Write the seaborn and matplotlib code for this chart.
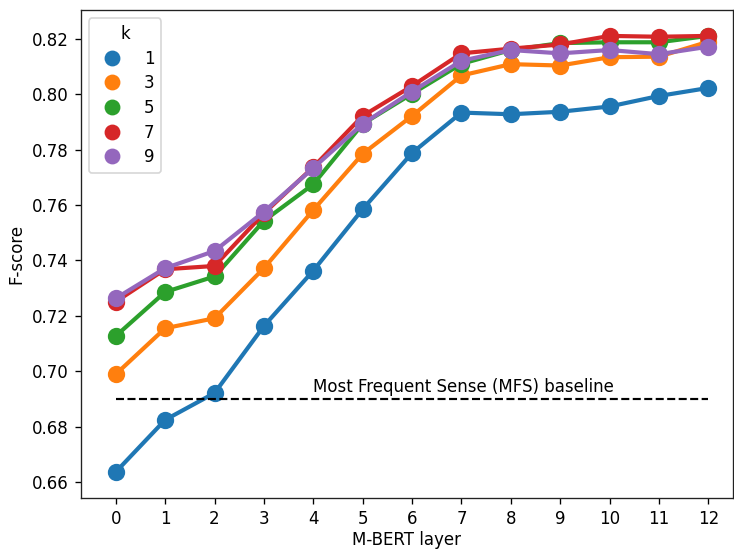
import numpy as np
import pandas as pd
import seaborn as sns
import matplotlib.pyplot as plt
from matplotlib.lines import Line2D

# F-score per M-BERT layer, for each k
layers = list(range(13))
k_values = [1, 3, 5, 7, 9]
f_k1 = [0.6636, 0.6824, 0.6921, 0.7163, 0.7363, 0.7585, 0.7788, 0.7934, 0.7928, 0.7937, 0.7956, 0.7994, 0.8023]
f_k3 = [0.6989, 0.7155, 0.7191, 0.7372, 0.7582, 0.7785, 0.7922, 0.8068, 0.8109, 0.8104, 0.8134, 0.8136, 0.8190]
f_k5 = [0.7127, 0.7286, 0.7342, 0.7543, 0.7675, 0.7893, 0.8002, 0.8110, 0.8160, 0.8185, 0.8188, 0.8188, 0.8211]
f_k7 = [0.7251, 0.7368, 0.7380, 0.7570, 0.7737, 0.7922, 0.8030, 0.8148, 0.8165, 0.8180, 0.8211, 0.8208, 0.8211]
f_k9 = [0.7263, 0.7372, 0.7434, 0.7576, 0.7734, 0.7893, 0.8010, 0.8121, 0.8160, 0.8148, 0.8160, 0.8145, 0.8172]
mfs_baseline = 0.69

rows = []
for k, vals in zip(k_values, [f_k1, f_k3, f_k5, f_k7, f_k9]):
    for layer, v in zip(layers, vals):
        rows.append({"layer": layer, "k": k, "fscore": v})
df = pd.DataFrame(rows)

colors = sns.color_palette("tab10", len(k_values))

plt.rcParams["axes.edgecolor"] = "#222222"

fig, ax = plt.subplots(figsize=(734 / 120, 549 / 120), dpi=120)
fig.subplots_adjust(left=0.110, right=0.9986, bottom=0.093, top=0.982)

sns.pointplot(data=df, x="layer", y="fscore", hue="k", palette=colors,
              errorbar=None, markersize=8.5, linewidth=2.5, ax=ax, legend=False)

# baseline
ax.plot([0, 12], [mfs_baseline, mfs_baseline], "k--", linewidth=1.3)
ax.text(4, mfs_baseline + 0.001, "Most Frequent Sense (MFS) baseline", ha="left", va="bottom", fontsize=10)

ax.set_xlim(-0.71, 12.5)
ax.set_ylim(0.6542, 0.8305)
ax.set_yticks(np.arange(0.66, 0.821, 0.02))
ax.set_xlabel("M-BERT layer", labelpad=2)
ax.set_ylabel("F-score")

handles = [Line2D([], [], linestyle="", marker="o", markersize=8.5, color=c) for c in colors]
ax.legend(handles, [str(k) for k in k_values], title="k", loc="upper left",
          handletextpad=0.9, labelspacing=0.4)

plt.savefig("out.png", dpi=120)
